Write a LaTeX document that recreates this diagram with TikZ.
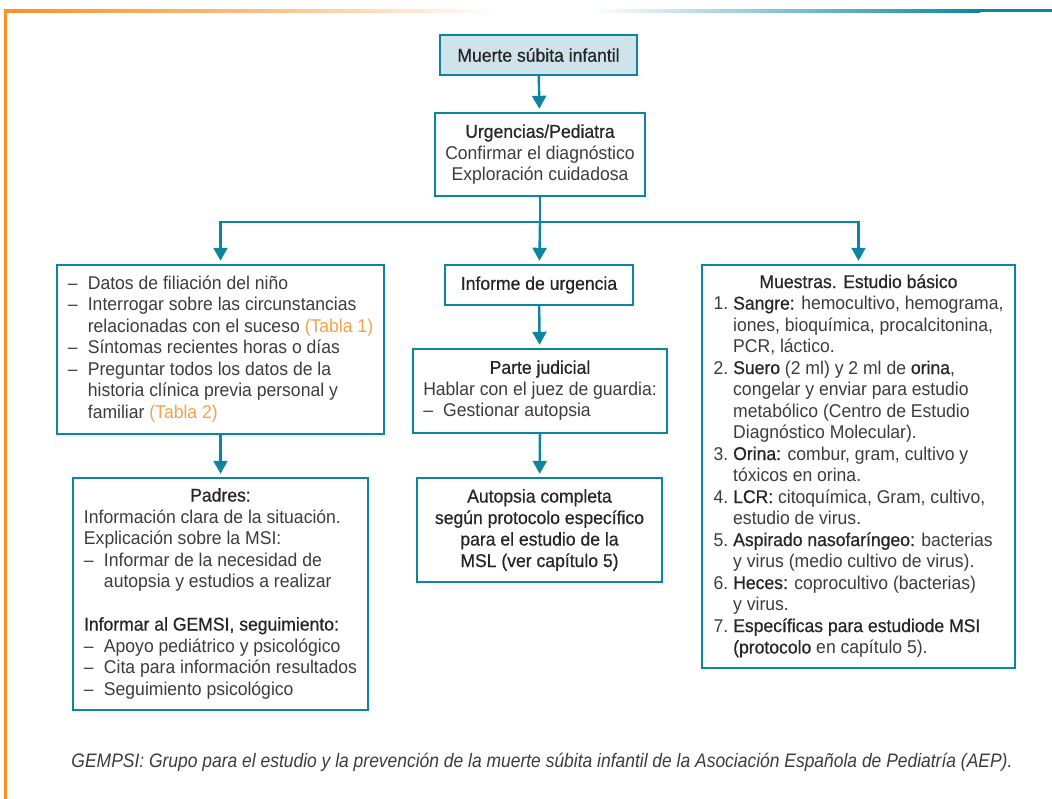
\documentclass[tikz,border=0pt]{standalone}
\usepackage{fontspec}
\setmainfont{Liberation Sans}[FakeStretch=0.95]
\newfontfamily\resaltafont{Liberation Sans}[FakeStretch=0.95,FakeBold=0.6]
\newfontfamily\notafont{Liberation Sans}[FakeStretch=0.895]
\usetikzlibrary{positioning, arrows.meta}

\definecolor{cajaazul}{RGB}{12,134,160}
\definecolor{cajafondo}{RGB}{207,227,234}
\definecolor{naranja}{RGB}{247,146,40}
\definecolor{tablanar}{RGB}{246,160,72}
\definecolor{texto}{RGB}{60,60,60}

\newcommand{\resalta}[1]{{\resaltafont\color{black!85}#1}}
\newcommand{\tabla}[1]{\textcolor{tablanar}{#1}}
\newcommand{\guion}{\makebox[20pt][l]{--}}

\begin{document}
\begin{tikzpicture}[x=1pt,y=-1pt]
\tikzstyle{caja}=[draw=cajaazul, line width=2.4pt, inner sep=0pt, text=texto,
  font=\fontsize{18.5}{21.5}\selectfont]
\tikzstyle{every edge}=[draw=cajaazul, line width=2.4pt,
  -{Triangle[width=14pt,length=13pt]}, shorten >=3pt]
\useasboundingbox (0,0) rectangle (1052,799);

% marco
\shade[left color=naranja, right color=white, middle color=naranja!60] (5,9.5) rectangle (500,12.5);
\shade[left color=white, right color=cajaazul] (590,9.5) rectangle (980,12.5);
\fill[cajaazul] (979,9.5) rectangle (1052,12.5);
\fill[naranja] (4,9.5) rectangle (7,799);

% columna central
\node[caja, fill=cajafondo, minimum width=197pt, minimum height=40pt] at (538.5,55) (muerte)
  {\resalta{Muerte súbita infantil}};
\node[caja, minimum width=210pt, minimum height=83pt, align=center] at (540,154.5) (urg)
  {\resalta{Urgencias/Pediatra}\\Confirmar el diagnóstico\\Exploración cuidadosa};
\node[caja, minimum width=188pt, minimum height=40pt] at (539,285) (informe)
  {\resalta{Informe de urgencia}};
\node[caja, minimum width=254pt, minimum height=84pt] at (540,391) (parte)
  {\begin{tabular}{@{}l@{}}
   \multicolumn{1}{@{}c@{}}{\resalta{Parte judicial}}\\
   Hablar con el juez de guardia:\\
   \guion Gestionar autopsia
   \end{tabular}};
\node[caja, minimum width=245pt, minimum height=104pt, align=center] at (539.5,530) (autopsia)
  {\resalta{Autopsia completa}\\\resalta{según protocolo específico}\\
   \resalta{para el estudio de la}\\\resalta{MSL (ver capítulo 5)}};

% columna izquierda
\node[caja, minimum width=327pt, minimum height=169pt] at (220.5,349.5) (datos)
  {\begin{tabular}{@{}l@{}l@{}}
   \guion & Datos de filiación del niño\\
   \guion & Interrogar sobre las circunstancias\\
          & relacionadas con el suceso \tabla{(Tabla 1)}\\
   \guion & Síntomas recientes horas o días\\
   \guion & Preguntar todos los datos de la\\
          & historia clínica previa personal y\\
          & familiar \tabla{(Tabla 2)}
   \end{tabular}};
\node[caja, minimum width=295pt, minimum height=232pt] at (220.5,594) (padres)
  {\begin{tabular}{@{}l@{}l@{}}
   \multicolumn{2}{@{}c@{}}{\resalta{Padres:}}\\
   \multicolumn{2}{@{}l@{}}{Información clara de la situación.}\\
   \multicolumn{2}{@{}l@{}}{Explicación sobre la MSI:}\\
   \guion & Informar de la necesidad de\\
          & autopsia y estudios a realizar\\
          & \\
   \multicolumn{2}{@{}l@{}}{\resalta{Informar al GEMSI, seguimiento:}}\\
   \guion & Apoyo pediátrico y psicológico\\
   \guion & Cita para información resultados\\
   \guion & Seguimiento psicológico
   \end{tabular}};

% columna derecha
\node[caja, minimum width=313pt, minimum height=403pt] at (858.5,466.5) (muestras)
  {\begin{tabular}{@{}r@{\hspace{5pt}}l@{}}
   \multicolumn{2}{@{}c@{}}{\resalta{Muestras. Estudio básico}}\\
   1. & \resalta{Sangre:} hemocultivo, hemograma,\\
      & iones, bioquímica, procalcitonina,\\
      & PCR, láctico.\\
   2. & \resalta{Suero} (2 ml) y 2 ml de \resalta{orina},\\
      & congelar y enviar para estudio\\
      & metabólico (Centro de Estudio\\
      & Diagnóstico Molecular).\\
   3. & \resalta{Orina:} combur, gram, cultivo y\\
      & tóxicos en orina.\\
   4. & \resalta{LCR:} citoquímica, Gram, cultivo,\\
      & estudio de virus.\\
   5. & \resalta{Aspirado nasofaríngeo:} bacterias\\
      & y virus (medio cultivo de virus).\\
   6. & \resalta{Heces:} coprocultivo (bacterias)\\
      & y virus.\\
   7. & \resalta{Específicas para estudiode MSI}\\
      & \resalta{(protocolo} en capítulo 5).
   \end{tabular}};

\coordinate (rama) at (540,222);

\draw (muerte) edge (urg);
\draw[draw=cajaazul, line width=2.4pt] (urg) -- (rama);
\draw (rama) edge (informe)
      (rama) edge[to path={-| (\tikztotarget)}] (datos)
      (rama) edge[to path={-| (\tikztotarget)}] (muestras);
\draw (datos) edge (padres);
\draw (informe) edge (parte);
\draw (parte) edge (autopsia);

\node[text=texto, font=\notafont\itshape\fontsize{19.5}{22}\selectfont] at (542,762) (nota)
  {GEMPSI: Grupo para el estudio y la prevención de la muerte súbita infantil de la Asociación Española de Pediatría (AEP).};
\end{tikzpicture}
\end{document}
